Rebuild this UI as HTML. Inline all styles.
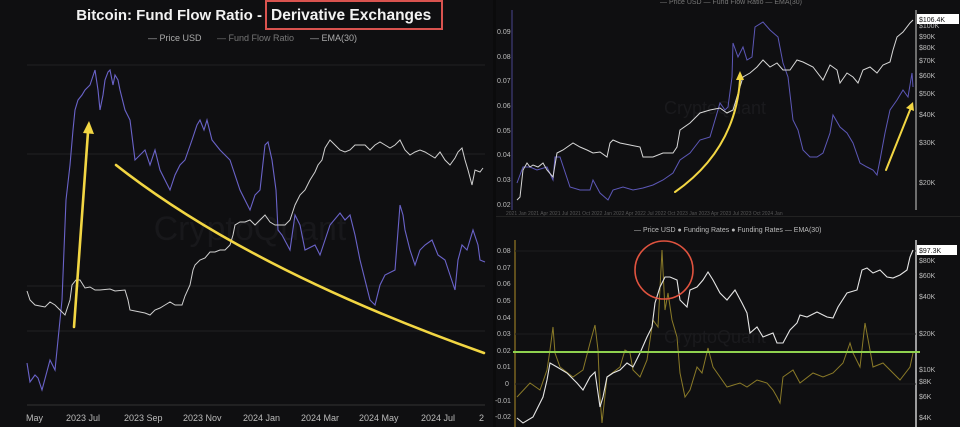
<!DOCTYPE html>
<html><head><meta charset="utf-8"><style>
html,body{margin:0;padding:0;background:#0f0f11;}
svg{display:block;font-family:"Liberation Sans",sans-serif;}
</style></head><body>
<svg width="960" height="427" viewBox="0 0 960 427">
<rect width="960" height="427" fill="#0f0f11"/>
<!-- LEFT PANEL -->
<text x="262" y="20" fill="#f2f2f2" font-size="15" font-weight="bold" text-anchor="end">Bitcoin: Fund Flow Ratio -</text>
<rect x="266" y="1" width="176" height="28" fill="none" stroke="#d9534f" stroke-width="2"/>
<text x="271" y="20" fill="#f2f2f2" font-size="15.5" font-weight="bold">Derivative Exchanges</text>
<text x="148" y="41" fill="#aaa" font-size="9">— Price USD</text>
<text x="217" y="41" fill="#777" font-size="9">— Fund Flow Ratio</text>
<text x="310" y="41" fill="#aaa" font-size="9">— EMA(30)</text>
<g stroke="#222" stroke-width="1">
<line x1="27" y1="65" x2="485" y2="65"/><line x1="27" y1="154" x2="485" y2="154"/>
<line x1="27" y1="286" x2="485" y2="286"/><line x1="27" y1="331" x2="485" y2="331"/>
</g>
<line x1="27" y1="405" x2="485" y2="405" stroke="#333"/>
<text x="250" y="240" fill="#18181b" font-size="34" text-anchor="middle">CryptoQuant</text>
<g fill="#bbb" font-size="9">
<text x="26" y="421">May</text><text x="66" y="421">2023 Jul</text><text x="124" y="421">2023 Sep</text>
<text x="183" y="421">2023 Nov</text><text x="243" y="421">2024 Jan</text><text x="301" y="421">2024 Mar</text>
<text x="359" y="421">2024 May</text><text x="421" y="421">2024 Jul</text><text x="479" y="421">2</text>
</g>
<polyline fill="none" stroke="#6a63c9" stroke-width="1.1" points="27,363 30,382 35,375 38,378 42,390 46,375 50,360 55,370 58,340 62,300 66,200 70,165 73,130 75,110 78,100 82,95 85,90 90,85 95,70 98,90 100,110 103,95 105,80 108,72 110,70 113,85 115,75 118,80 120,90 125,110 130,120 135,160 140,155 145,150 150,165 155,150 160,170 165,180 170,190 175,175 180,165 185,160 192,140 197,125 200,120 204,130 207,120 212,140 220,150 230,160 240,190 245,200 250,210 255,195 260,190 265,145 268,142 272,160 276,190 278,230 282,235 290,250 295,215 300,225 305,250 315,245 320,255 330,225 340,213 345,220 350,215 355,235 360,260 370,300 375,305 380,285 385,275 395,270 400,205 403,215 405,230 410,250 415,265 420,250 425,245 432,240 438,255 445,260 450,275 455,290 458,260 462,245 467,250 473,230 478,245 480,260 485,262"/>
<polyline fill="none" stroke="#d0d0d0" stroke-width="1" points="27,291 30,300 35,305 40,306 45,307 50,302 55,305 60,310 65,315 70,300 72,285 76,280 80,280 85,288 90,287 95,290 100,290 110,289 115,291 125,290 128,300 130,310 135,311 140,312 145,313 150,315 155,310 160,308 165,305 170,302 175,305 182,305 185,296 190,285 193,270 195,265 200,260 205,258 210,252 215,252 220,250 225,250 230,245 233,235 235,225 240,222 245,222 250,220 255,225 260,220 265,215 270,222 275,225 280,225 285,225 290,220 295,205 300,195 305,190 310,180 315,172 318,165 322,160 325,148 330,140 335,145 340,150 345,152 350,150 355,145 360,145 365,145 370,150 375,145 380,142 385,145 390,148 395,145 400,140 405,150 410,155 415,152 420,150 425,152 430,155 435,158 440,152 445,160 450,165 455,158 458,152 462,148 465,160 468,170 472,185 475,170 480,172 483,168"/>
<g stroke="#f2d643" stroke-width="2.6" fill="none" stroke-linecap="round">
<line x1="74" y1="327" x2="88" y2="132"/>
<path d="M116,165 Q250,270 484,353"/>
</g>
<polygon points="89,121 83,133 94,134" fill="#f2d643"/>
<!-- divider -->
<rect x="493" y="0" width="3" height="427" fill="#0b0b0c"/>
<!-- TOP RIGHT -->
<text x="660" y="4" fill="#777" font-size="7">— Price USD   — Fund Flow Ratio   — EMA(30)</text>
<line x1="512" y1="10" x2="512" y2="210" stroke="#4a4590"/>
<line x1="916" y1="10" x2="916" y2="210" stroke="#ccc"/>
<g fill="#bbb" font-size="7">
<text x="497" y="34">0.09</text><text x="497" y="59">0.08</text><text x="497" y="83">0.07</text><text x="497" y="108">0.06</text>
<text x="497" y="133">0.05</text><text x="497" y="157">0.04</text><text x="497" y="182">0.03</text><text x="497" y="207">0.02</text>
<text x="919" y="28">$100K</text><text x="919" y="39">$90K</text><text x="919" y="50">$80K</text><text x="919" y="63">$70K</text>
<text x="919" y="78">$60K</text><text x="919" y="96">$50K</text><text x="919" y="117">$40K</text><text x="919" y="145">$30K</text><text x="919" y="185">$20K</text>
</g>
<rect x="917" y="14" width="42" height="10" fill="#fff"/><text x="919" y="22" fill="#111" font-size="7">$106.4K</text>
<text x="715" y="114" fill="#1a1a1d" font-size="18" text-anchor="middle">CryptoQuant</text>
<g fill="#555" font-size="5"><text x="506" y="215">2021 Jan  2021 Apr  2021 Jul  2021 Oct  2022 Jan  2022 Apr  2022 Jul  2022 Oct  2023 Jan  2023 Apr  2023 Jul  2023 Oct  2024 Jan</text></g>
<polyline fill="none" stroke="#5d58b8" stroke-width="1" points="517,183 523,167 530,167 537,170 547,167 553,180 555,157 560,157 570,187 580,190 590,190 593,180 600,193 608,200 613,190 623,187 633,190 643,188 653,185 663,180 673,173 680,160 690,153 700,140 710,137 715,120 720,103 725,110 728,107 732,77 733,43 738,57 743,47 747,60 752,57 755,27 763,22 770,30 778,37 783,63 788,77 793,120 798,130 803,150 810,157 817,157 823,153 830,133 833,115 840,127 847,133 853,143 860,163 867,167 873,170 877,175 880,160 885,133 890,110 897,100 903,90 908,97 912,73 913,87"/>
<polyline fill="none" stroke="#d8d8d8" stroke-width="1" points="517,200 520,197 523,170 527,163 530,167 533,165 538,167 543,163 547,170 553,177 557,153 563,150 573,143 580,147 587,150 593,153 600,152 607,157 610,143 613,140 620,143 630,145 640,147 643,157 653,157 663,153 673,153 677,147 680,130 690,123 700,113 710,110 720,108 727,113 733,110 743,77 750,73 757,67 763,60 770,67 777,63 783,70 790,70 797,60 803,62 813,67 823,80 830,65 837,70 840,83 847,73 853,77 858,83 863,70 870,67 877,73 883,65 890,62 893,50 897,37 903,32 910,23 913,20"/>
<g stroke="#f2d643" stroke-width="2" fill="none" stroke-linecap="round">
<path d="M675,192 Q735,150 740,80"/><line x1="886" y1="170" x2="910" y2="110"/>
</g>
<polygon points="740,71 736,80 744,80" fill="#f2d643"/>
<polygon points="913,102 906,108 914,111" fill="#f2d643"/>
<!-- BOTTOM RIGHT -->
<rect x="496" y="216" width="464" height="1" fill="#222"/>
<text x="634" y="232" fill="#bbb" font-size="7">— Price USD  ● Funding Rates  ● Funding Rates  — EMA(30)</text>
<line x1="515" y1="240" x2="515" y2="427" stroke="#7a6420" stroke-width="1.5"/>
<line x1="916" y1="240" x2="916" y2="427" stroke="#ccc" stroke-width="1.5"/>
<g stroke="#1e1e1e"><line x1="515" y1="251" x2="916" y2="251"/><line x1="515" y1="334" x2="916" y2="334"/><line x1="515" y1="384" x2="916" y2="384"/></g>
<g fill="#bbb" font-size="7">
<text x="497" y="253">0.08</text><text x="497" y="270">0.07</text><text x="497" y="286">0.06</text><text x="497" y="303">0.05</text>
<text x="497" y="320">0.04</text><text x="497" y="336">0.03</text><text x="497" y="353">0.02</text><text x="497" y="369">0.01</text>
<text x="505" y="386">0</text><text x="495" y="403">-0.01</text><text x="495" y="419">-0.02</text>
<text x="919" y="263">$80K</text><text x="919" y="278">$60K</text><text x="919" y="299">$40K</text><text x="919" y="336">$20K</text>
<text x="919" y="372">$10K</text><text x="919" y="384">$8K</text><text x="919" y="399">$6K</text><text x="919" y="420">$4K</text>
</g>
<rect x="917" y="245" width="40" height="10" fill="#fff"/><text x="919" y="253" fill="#111" font-size="7">$97.3K</text>
<text x="715" y="343" fill="#1a1a1d" font-size="18" text-anchor="middle">CryptoQuant</text>
<polyline fill="none" stroke="#8a7a28" stroke-width="1" points="517,397 530,383 540,390 547,370 550,350 553,327 555,353 560,367 573,377 583,370 590,343 595,325 598,350 600,397 602,423 607,377 620,367 625,350 630,353 633,370 640,377 647,360 653,320 658,327 662,250 665,310 668,293 672,320 677,337 680,373 685,397 690,390 697,367 702,373 708,348 713,367 720,377 727,387 740,383 747,387 757,380 767,383 773,390 777,397 780,403 783,377 793,370 800,383 813,373 823,377 833,373 843,363 850,343 853,353 860,367 865,323 870,350 873,367 883,363 893,373 900,380 910,367 913,353"/>
<polyline fill="none" stroke="#e6e6e6" stroke-width="1.1" points="517,418 523,423 533,417 538,407 543,397 547,380 550,363 557,367 567,373 577,383 583,390 590,377 595,372 600,407 603,397 607,377 613,373 620,370 627,363 633,367 640,353 647,337 652,327 655,303 660,287 665,277 670,277 677,280 680,300 687,307 690,290 697,287 703,280 708,272 713,280 720,293 727,300 735,290 742,303 747,313 750,333 757,327 763,337 773,333 777,343 783,343 790,330 797,323 800,315 807,317 817,312 827,317 833,318 838,307 847,293 857,290 862,270 867,268 873,273 880,270 887,277 893,278 900,275 907,270 910,257 913,250"/>
<line x1="513" y1="352" x2="920" y2="352" stroke="#8fd14f" stroke-width="2"/>
<circle cx="664" cy="270" r="29" fill="none" stroke="#e0533f" stroke-width="1.6"/>
</svg>
</body></html>
